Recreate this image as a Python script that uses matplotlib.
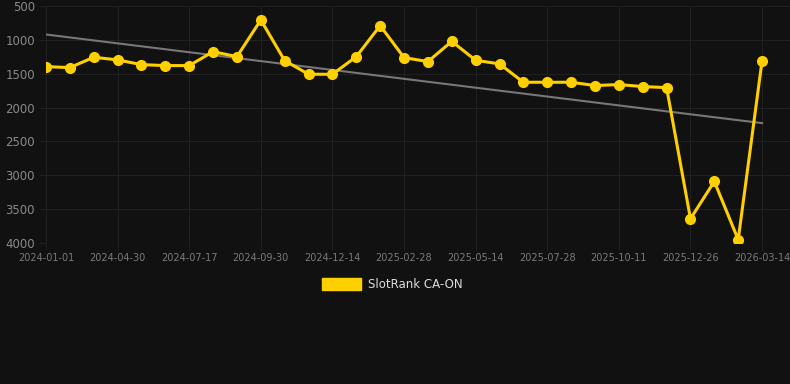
import matplotlib
matplotlib.use("Agg")
import matplotlib.pyplot as plt
import numpy as np

# rank per sample (lower is better, axis is inverted)
ranks = [1395, 1410, 1257, 1296, 1366, 1380, 1380, 1174, 1248, 706,
         1307, 1508, 1508, 1248, 790, 1262, 1321, 1022, 1302, 1355,
         1626, 1626, 1626, 1675, 1660, 1690, 1705, 3642, 3091, 3951,
         1307]
tick_labels = ["2024-01-01", "2024-04-30", "2024-07-17", "2024-09-30",
               "2024-12-14", "2025-02-28", "2025-05-14", "2025-07-28",
               "2025-10-11", "2025-12-26", "2026-03-14"]
y_ticks = [500, 1000, 1500, 2000, 2500, 3000, 3500, 4000]
series_name = "SlotRank CA-ON"

bg = "#111111"
gold = "#ffd000"

fig = plt.figure(figsize=(7.9, 3.84), dpi=100, facecolor=bg)
ax = fig.add_axes([46 / 790, 1 - 243 / 384, 1 - 46 / 790, 237 / 384])
ax.set_facecolor(bg)

x = np.arange(len(ranks))

# linear trend over the samples
k, b = np.polyfit(x, ranks, 1)
ax.plot(x, k * x + b, color="#777777", lw=1.5, zorder=2)

ax.plot(x, ranks, color=gold, lw=2.2, marker="o", ms=7,
        markerfacecolor=gold, markeredgecolor=gold, zorder=3)

ax.set_ylim(4000, 500)
ax.set_xlim(0, 31.17)
ax.set_yticks(y_ticks)
ax.set_xticks(x[::3])
ax.set_xticklabels(tick_labels)

ax.grid(True, color="#202020", lw=0.8)
for s in ax.spines.values():
    s.set_visible(False)
ax.tick_params(axis="y", colors="#202020", labelcolor="#8a8a8a",
               labelsize=8.5, length=5, pad=3)
ax.tick_params(axis="x", colors="#202020", labelcolor="#7a7a7a",
               labelsize=7, length=5, pad=2)

# legend drawn as a coloured box + label
fig.patches.append(plt.Rectangle((322 / 790, 1 - 290 / 384), 39 / 790, 12 / 384,
                                 transform=fig.transFigure, color=gold))
fig.text(368 / 790, 1 - 284 / 384, series_name, color="#dddddd",
         fontsize=8.5, va="center", ha="left")

fig.savefig("out.png", dpi=100, facecolor=bg)
